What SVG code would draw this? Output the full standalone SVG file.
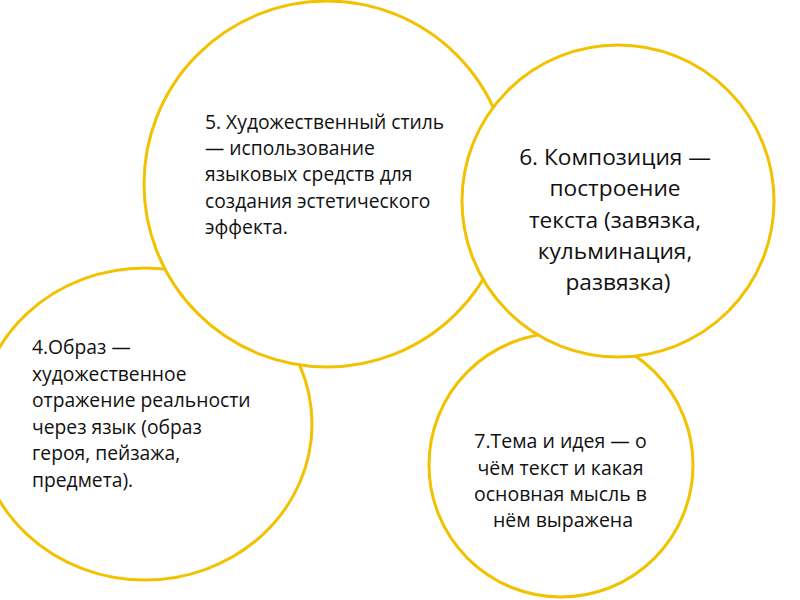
<svg xmlns="http://www.w3.org/2000/svg" width="800" height="600" viewBox="0 0 800 600">
  <style>
    .ring { fill: #ffffff; stroke: #F2C200; stroke-width: 3; }
    .t { font-family: "Open Sans", "Noto Sans", "DejaVu Sans", sans-serif; fill: #111111; }
    .s { font-size: 19.3px; }
    .m { font-size: 19.5px; }
    .b { font-size: 22.7px; }
    .c { text-anchor: middle; }
  </style>
  <rect width="800" height="600" fill="#ffffff"/>
  <g id="connectors"/>
  <g id="node4">
    <ellipse class="ring" cx="145" cy="424" rx="167" ry="156"/>
    <text class="t s" x="32">
      <tspan x="32" y="354">4.Образ —</tspan>
      <tspan x="32" y="380.5">художественное</tspan>
      <tspan x="32" y="407">отражение реальности</tspan>
      <tspan x="32" y="433.5">через язык (образ</tspan>
      <tspan x="32" y="460">героя, пейзажа,</tspan>
      <tspan x="32" y="486.5">предмета).</tspan>
    </text>
  </g>
  <g id="node5">
    <circle class="ring" cx="327" cy="184" r="183"/>
    <text class="t s" x="205">
      <tspan x="205" y="128.5">5. Художественный стиль</tspan>
      <tspan x="205" y="155">— использование</tspan>
      <tspan x="205" y="181">языковых средств для</tspan>
      <tspan x="205" y="207.5">создания эстетического</tspan>
      <tspan x="205" y="234">эффекта.</tspan>
    </text>
  </g>
  <g id="node7">
    <circle class="ring" cx="561" cy="465" r="132"/>
    <text class="t m c" x="563">
      <tspan x="563" y="448">7.Тема и идея — о</tspan>
      <tspan x="563" y="474.5">чём текст и какая</tspan>
      <tspan x="563" y="501">основная мысль в</tspan>
      <tspan x="563" y="527">нём выражена</tspan>
    </text>
  </g>
  <g id="node6">
    <circle class="ring" cx="618" cy="201" r="156"/>
    <text class="t b c" x="618">
      <tspan x="618" y="165">6. Композиция —</tspan>
      <tspan x="618" y="196">построение</tspan>
      <tspan x="618" y="227.5">текста (завязка,</tspan>
      <tspan x="618" y="259">кульминация,</tspan>
      <tspan x="618" y="290">развязка)</tspan>
    </text>
  </g>
</svg>
